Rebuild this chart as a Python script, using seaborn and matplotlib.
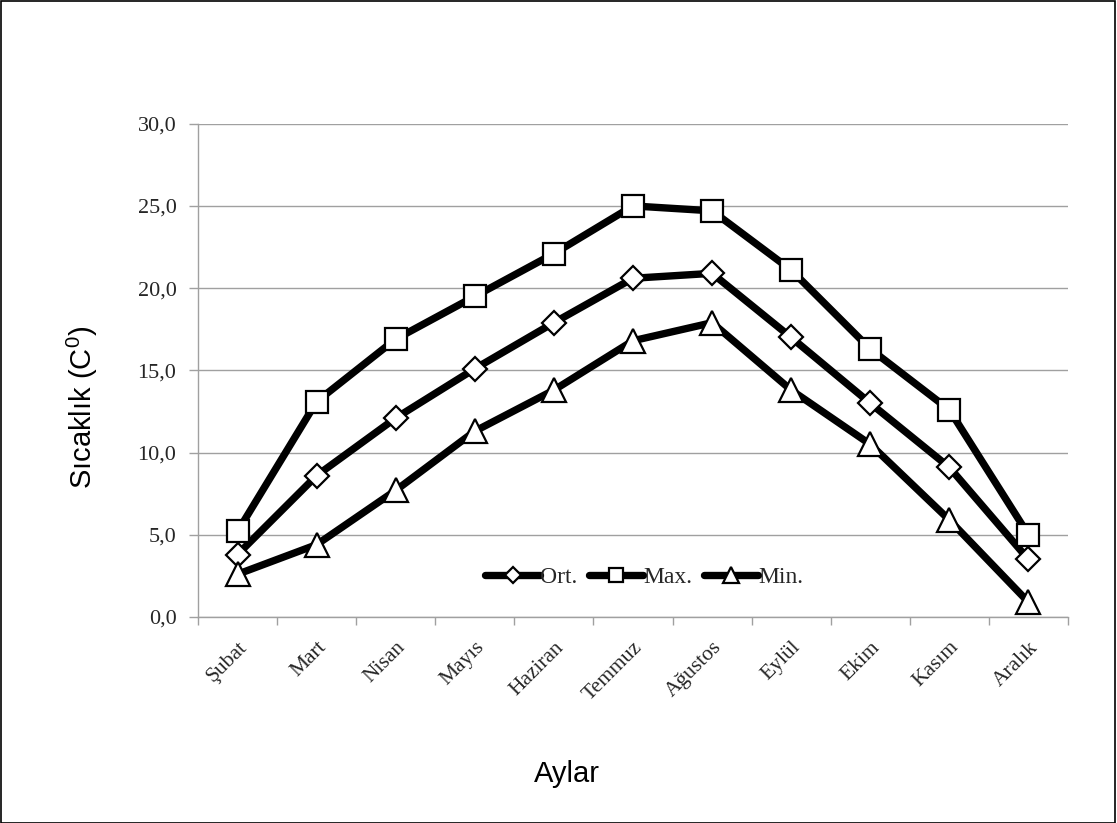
import matplotlib
matplotlib.use("Agg")
import matplotlib.pyplot as plt
import matplotlib.transforms as mtransforms
import seaborn as sns
import pandas as pd
from matplotlib.patches import Rectangle
from matplotlib.ticker import FixedLocator, FuncFormatter

months = ["Şubat", "Mart", "Nisan", "Mayıs", "Haziran", "Temmuz",
          "Ağustos", "Eylül", "Ekim", "Kasım", "Aralık"]
ort = [3.8, 8.6, 12.1, 15.1, 17.9, 20.6, 20.9, 17.0, 13.0, 9.1, 3.5]
maks = [5.2, 13.1, 16.9, 19.5, 22.1, 25.0, 24.7, 21.1, 16.3, 12.6, 5.0]
mins = [2.6, 4.4, 7.7, 11.3, 13.8, 16.8, 17.9, 13.8, 10.5, 5.9, 0.9]
series_names = ["Ort.", "Max.", "Min."]
yticks = [0, 5, 10, 15, 20, 25, 30]

sns.set_theme(style="white")
plt.rcParams["mathtext.fontset"] = "custom"
plt.rcParams["mathtext.rm"] = "Liberation Sans"
plt.rcParams["mathtext.it"] = "Liberation Sans"

fig = plt.figure(figsize=(11.17, 8.23), dpi=100)
ax = fig.add_axes([198 / 1117, 1 - 617 / 823, 870 / 1117, 493.3 / 823])

x = list(range(len(months)))
styles = [("D", 12.5, ort), ("s", 15.5, maks), ("^", 17.5, mins)]
for name, (mk, ms, vals) in zip(series_names, styles):
    df = pd.DataFrame({"x": x, "y": vals})
    sns.lineplot(data=df, x="x", y="y", ax=ax, color="black", linewidth=5.3,
                 marker=mk, markersize=ms, markerfacecolor="white",
                 markeredgecolor="black", markeredgewidth=1.6,
                 solid_capstyle="round", label=name, zorder=3)

ax.set_xlim(-0.5, len(months) - 0.5)
ax.set_ylim(0, 30)
ax.set_yticks(yticks)
ax.yaxis.set_major_formatter(FuncFormatter(lambda v, p: f"{v:.1f}".replace(".", ",")))
ax.set_xticks(x)
ax.set_xticklabels(months, rotation=45, ha="right", va="top", rotation_mode="anchor",
                   family="Liberation Serif", fontsize=15.5)
offset = mtransforms.ScaledTranslation(7 / 100, 0, fig.dpi_scale_trans)
for lab in ax.get_xticklabels():
    lab.set_transform(lab.get_transform() + offset)
for lab in ax.get_yticklabels():
    lab.set_family("Liberation Serif")
    lab.set_fontsize(16)
ax.xaxis.set_minor_locator(FixedLocator([i - 0.5 for i in range(len(months) + 1)]))
ax.tick_params(axis="x", which="major", length=0, pad=15)
ax.tick_params(axis="x", which="minor", length=6, color="#a0a0a0", width=1, direction="out", bottom=True)
ax.tick_params(axis="y", which="major", length=6.5, color="#a0a0a0", width=1, direction="out", left=True, pad=9)

ax.grid(axis="y", color="#a0a0a0", linewidth=1)
ax.grid(axis="x", visible=False)
for s in ["top", "right"]:
    ax.spines[s].set_visible(False)
for s in ["left", "bottom"]:
    ax.spines[s].set_color("#a0a0a0")
    ax.spines[s].set_linewidth(1)

ax.set_xlabel("")
ax.set_ylabel("")
fig.text(567 / 1117, 1 - 782 / 823, "Aylar", family="Liberation Sans", fontsize=21,
         ha="center", va="baseline", color="black")
fig.text(92 / 1117, 1 - 407.5 / 823, "Sıcaklık (C$^{0}$)", family="Liberation Sans", fontsize=21,
         ha="center", va="baseline", rotation=90, rotation_mode="anchor", color="black")

leg = ax.legend(loc="center", bbox_to_anchor=(0.513, 0.081), ncol=3, frameon=False,
                markerscale=0.68, handlelength=2.3, handletextpad=0.0, columnspacing=0.5,
                prop={"family": "Liberation Serif", "size": 17})

fig.add_artist(Rectangle((0.0005, 0.0005), 0.998, 0.998, transform=fig.transFigure,
                         fill=False, edgecolor="black", linewidth=1.2))

fig.savefig("out.png", dpi=100, facecolor="white")
